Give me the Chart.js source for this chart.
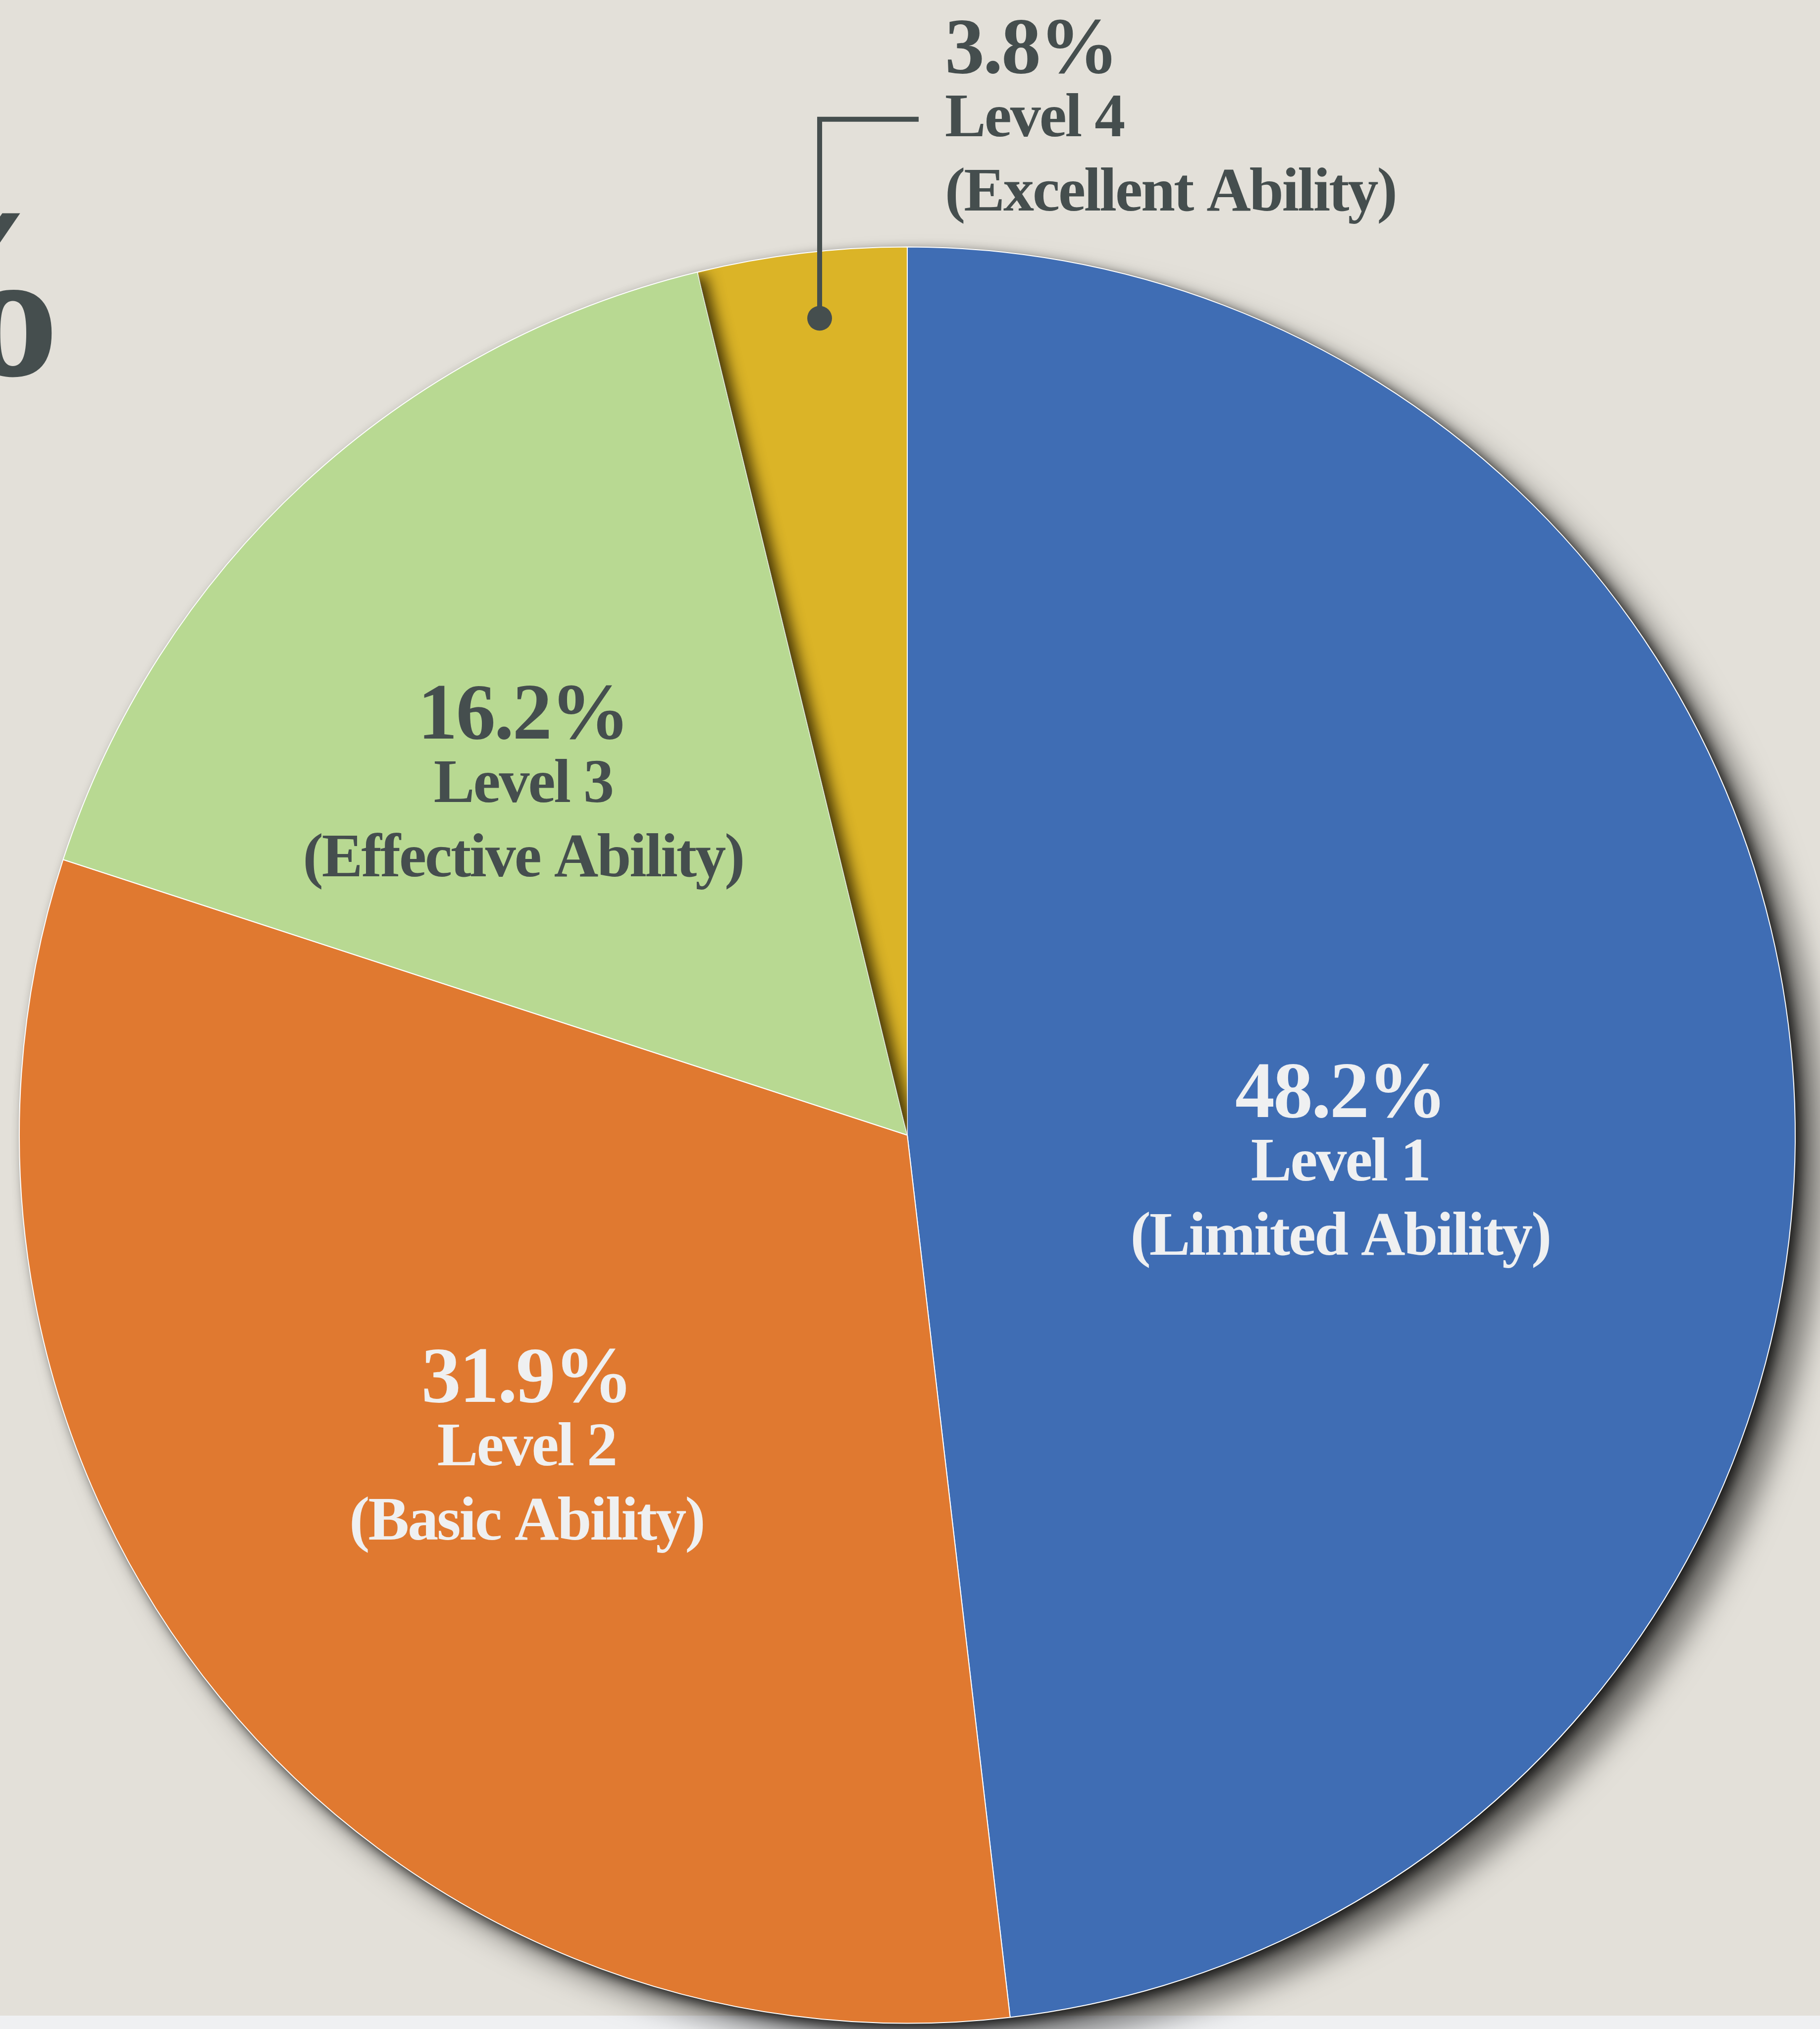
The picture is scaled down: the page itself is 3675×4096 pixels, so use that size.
<!DOCTYPE html>
<html>
<head>
<meta charset="utf-8">
<script src="https://cdn.jsdelivr.net/npm/chart.js@4.4.0/dist/chart.umd.min.js"></script>
<style>
  html, body { margin: 0; padding: 0; background: #eff0f2; }
  #wrap { width: 3675px; height: 4096px; }
</style>
</head>
<body>
<div id="wrap"><canvas id="pieChart" width="3675" height="4096"></canvas></div>
<script>
const levels = ["Level 1", "Level 2", "Level 3", "Level 4"]
const abilities = ["(Limited Ability)", "(Basic Ability)", "(Effective Ability)", "(Excellent Ability)"]
const shares = [48.2, 31.9, 16.2, 3.8]
const sliceColors = ["#3f6db4", "#e07930", "#b8d992", "#dbb427"]

const DARK = "#454e4e"
const LIGHT = "#eff0f1"
const FONT = '"Liberation Serif", "Times New Roman", serif'

// label anchors, as fractions of the radius from the pie centre (baseline of the % line)
const labelSpots = [
  { dx: 0.4877, dy: -0.0201, align: "center", color: LIGHT },
  { dx: -0.4287, dy: 0.3006, align: "center", color: LIGHT },
  { dx: -0.4326, dy: -0.4465, align: "center", color: DARK },
  { dx: 0.0424, dy: -1.1962, align: "left", color: DARK, leader: { dotX: -0.0987, dotY: -0.9197, elbowY: -1.1438, endX: 0.0128 } }
]

function drawText(ctx, str, x, y, size, color, align, spacing) {
  ctx.font = "bold " + size + "px " + FONT
  ctx.letterSpacing = spacing + "px"
  ctx.fillStyle = color
  ctx.textAlign = align
  ctx.textBaseline = "alphabetic"
  ctx.fillText(str, x, y)
}

const background = {
  id: "background",
  beforeDraw(chart) {
    const ctx = chart.ctx
    ctx.save()
    ctx.fillStyle = "#eff0f2"
    ctx.fillRect(0, 0, chart.width, chart.height)
    ctx.fillStyle = "#e3e0d9"
    ctx.fillRect(0, 0, chart.width, chart.height - 27)
    ctx.restore()
  }
}

function shadowDisc(ctx, arc, color, blur, ox, oy) {
  ctx.save()
  ctx.shadowColor = color
  ctx.shadowBlur = blur
  ctx.shadowOffsetX = ox
  ctx.shadowOffsetY = oy
  ctx.fillStyle = "#3a3a3a"
  ctx.beginPath()
  ctx.arc(arc.x, arc.y, arc.outerRadius, 0, Math.PI * 2)
  ctx.fill()
  ctx.restore()
}

const pieShadow = {
  id: "pieShadow",
  beforeDatasetsDraw(chart) {
    const arc = chart.getDatasetMeta(0).data[0]
    const ctx = chart.ctx
    // wide soft shadow, then a tight dark one next to the edge
    shadowDisc(ctx, arc, "rgba(0,0,0,0.5)", 60, 55, 45)
    shadowDisc(ctx, arc, "rgba(10,10,10,0.85)", 24, 12, 10)
  },
  afterDatasetsDraw(chart) {
    // green slice casts a shadow onto the small yellow one
    const meta = chart.getDatasetMeta(0)
    const green = meta.data[2]
    const yellow = meta.data[3]
    const ctx = chart.ctx
    ctx.save()
    ctx.beginPath()
    ctx.moveTo(yellow.x, yellow.y)
    ctx.arc(yellow.x, yellow.y, yellow.outerRadius - 2, yellow.startAngle, yellow.endAngle)
    ctx.closePath()
    ctx.clip()
    ctx.shadowColor = "rgba(40,30,0,0.9)"
    ctx.shadowBlur = 30
    ctx.shadowOffsetX = 14
    ctx.shadowOffsetY = 4
    ctx.fillStyle = sliceColors[2]
    ctx.beginPath()
    ctx.moveTo(green.x, green.y)
    ctx.arc(green.x, green.y, green.outerRadius, green.startAngle, green.endAngle)
    ctx.closePath()
    ctx.fill()
    ctx.restore()
  }
}

const sliceLabels = {
  id: "sliceLabels",
  afterDraw(chart) {
    const ctx = chart.ctx
    const arc = chart.getDatasetMeta(0).data[0]
    const cx = arc.x, cy = arc.y, r = arc.outerRadius
    ctx.save()

    // cut-off big figure at the left edge
    drawText(ctx, "%", 150, 755, 488, DARK, "right", 0)

    labelSpots.forEach((spot, i) => {
      const x = cx + spot.dx * r
      const y = cy + spot.dy * r
      drawText(ctx, shares[i].toFixed(1) + "%", x, y, 160, spot.color, spot.align, -3)
      drawText(ctx, levels[i], x, y + 128, 124, spot.color, spot.align, -3)
      drawText(ctx, abilities[i], x, y + 278, 124, spot.color, spot.align, -3)
      if (spot.leader) {
        const l = spot.leader
        const dotX = cx + l.dotX * r
        ctx.strokeStyle = DARK
        ctx.lineWidth = 10
        ctx.beginPath()
        ctx.moveTo(dotX, cy + l.dotY * r)
        ctx.lineTo(dotX, cy + l.elbowY * r)
        ctx.lineTo(cx + l.endX * r, cy + l.elbowY * r)
        ctx.stroke()
        ctx.fillStyle = DARK
        ctx.beginPath()
        ctx.arc(dotX, cy + l.dotY * r, 25, 0, Math.PI * 2)
        ctx.fill()
      }
    })
    ctx.restore()
  }
}

const myChartRef = document.getElementById("pieChart").getContext("2d")
new Chart(myChartRef, {
  type: "pie",
  data: {
    labels: levels,
    datasets: [
      {
        label: "Share",
        data: shares,
        backgroundColor: sliceColors,
        borderColor: "#ffffff",
        borderWidth: 2
      }
    ]
  },
  options: {
    responsive: false,
    animation: false,
    layout: { padding: { left: 38, right: 49, top: 496, bottom: 9 } },
    plugins: {
      legend: { display: false },
      tooltip: { enabled: false }
    }
  },
  plugins: [background, pieShadow, sliceLabels]
})
</script>
</body>
</html>
